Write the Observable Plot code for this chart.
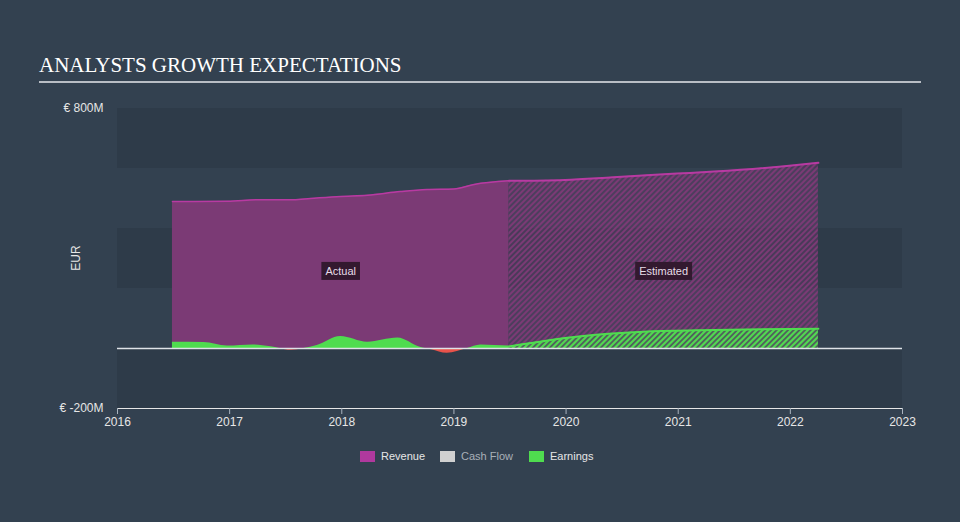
<!DOCTYPE html>
<html>
<head>
<meta charset="utf-8">
<script src="https://cdn.jsdelivr.net/npm/d3@7"></script>
<script src="https://cdn.jsdelivr.net/npm/@observablehq/plot@0.6"></script>
<style>
  html, body { margin: 0; padding: 0; background: #334150; width: 960px; height: 522px; overflow: hidden; }
  #title { position: absolute; left: 39px; top: 53px; font-family: "Liberation Serif", "DejaVu Serif", serif; font-size: 21px; color: #ffffff; }
  #rule { position: absolute; left: 39px; top: 81px; width: 882px; height: 2px; background: #b9bec5; }
  #chart { position: absolute; left: 0; top: 90px; }
  #legend { position: absolute; left: 0; top: 449px; width: 960px; font-family: "Liberation Sans", Arial, sans-serif; font-size: 11px; color: #e6e6e6; }
  .item { position: absolute; top: 0; display: flex; align-items: center; height: 14px; }
  .sw { width: 15px; height: 11px; margin-right: 6px; }
</style>
</head>
<body>
<div id="title">ANALYSTS GROWTH EXPECTATIONS</div>
<div id="rule"></div>
<div id="chart"></div>
<div id="legend"></div>
<script>
// ---- data ----
const xDomain = [2016, 2023];
const yDomain = [-200, 800];
const xTicks = [2016, 2017, 2018, 2019, 2020, 2021, 2022, 2023];
const yTicks = [-200, 800];
const yTickLabels = ["€ -200M", "€ 800M"];

const revenueActualYears  = [2016.49, 2016.98, 2017.27, 2017.57, 2017.72, 2017.99, 2018.23, 2018.52, 2018.76, 2019.0, 2019.18, 2019.49];
const revenueActualValues = [490, 491, 496, 496, 500, 507, 511, 523, 530, 532, 547, 559];

const revenueEstYears  = [2019.49, 2019.99, 2020.42, 2020.99, 2021.32, 2021.99, 2022.25];
const revenueEstValues = [559, 562, 571, 583, 590, 609, 619];

const earningsActualYears  = [2016.49, 2016.77, 2016.98, 2017.21, 2017.37, 2017.55, 2017.66, 2017.78, 2017.99, 2018.23, 2018.5, 2018.7, 2018.8, 2018.94, 2019.12, 2019.24, 2019.49];
const earningsActualValues = [21, 20, 8, 12, 6, -6, 0, 10, 40, 21, 35, 4, -4, -16, 0, 12, 8];

const earningsEstYears  = [2019.49, 2020.13, 2020.73, 2021.32, 2022.25];
const earningsEstValues = [7, 41, 57, 62, 66];

const bandLows  = [600, 200, -200];
const bandHighs = [800, 400, 0];

const labelTexts = ["Actual", "Estimated"];
const labelYears = [2017.99, 2020.87];
const labelValue = 257;

const legendNames  = ["Revenue", "Cash Flow", "Earnings"];
const legendColors = ["#b0399e", "#d0d0d0", "#4fdc4f"];
const legendText   = ["#e6e6e6", "#a9b0b8", "#e6e6e6"];
const legendLeft   = [360, 440, 529];

// ---- tables ----
const zip = (xs, ys) => xs.map((x, i) => ({x, y: ys[i]}));
const revA = zip(revenueActualYears, revenueActualValues);
const revE = zip(revenueEstYears, revenueEstValues);
const earA = zip(earningsActualYears, earningsActualValues);
const earE = zip(earningsEstYears, earningsEstValues);
const bands = bandLows.map((l, i) => ({y1: l, y2: bandHighs[i]}));
const labels = labelTexts.map((t, i) => ({t, x: labelYears[i], y: labelValue}));

const curve = "monotone-x";
const pal = {revFill: "#7b3a75", revLine: "#b83aa2", green: "#4fdc4f", red: "#e8524a"};

const plot = Plot.plot({
  width: 960,
  height: 350,
  marginLeft: 117,
  marginRight: 58,
  marginTop: 18,
  marginBottom: 32,
  style: {background: "transparent", fontFamily: "Liberation Sans, Arial, sans-serif", fontSize: "12px", color: "#e6e6e6"},
  x: {domain: xDomain, ticks: xTicks, tickFormat: d => String(d), tickSize: 6, tickPadding: 3, label: null, line: true},
  y: {domain: yDomain, ticks: yTicks, tickFormat: d => yTickLabels[yTicks.indexOf(d)], tickSize: 0, tickPadding: 14, label: null},
  marks: [
    Plot.rect(bands, {x1: () => xDomain[0], x2: () => xDomain[1], y1: "y1", y2: "y2", fill: "#2e3b49"}),
    // revenue actual
    Plot.areaY(revA, {x: "x", y1: 0, y2: "y", fill: pal.revFill, curve}),
    // revenue estimated (hatched)
    Plot.areaY(revE, {x: "x", y1: 0, y2: "y", fill: "url(#hatchRev)", curve}),
    // earnings actual (green above zero, red below zero via clip)
    Plot.areaY(earA, {x: "x", y1: 0, y2: "y", fill: pal.green, curve}),
    Plot.areaY(earA, {x: "x", y1: 0, y2: "y", fill: pal.red, curve}),
    // earnings estimated (hatched)
    Plot.areaY(earE, {x: "x", y1: 0, y2: "y", fill: "url(#hatchEarn)", curve}),
    Plot.lineY(earE, {x: "x", y: "y", stroke: pal.green, strokeWidth: 2, curve}),
    // revenue lines
    Plot.lineY(revA, {x: "x", y: "y", stroke: pal.revLine, strokeWidth: 1.5, curve}),
    Plot.lineY(revE, {x: "x", y: "y", stroke: pal.revLine, strokeWidth: 2, curve}),
    Plot.ruleY([0], {stroke: "#dfe3e8", strokeWidth: 1.5}),
    // labels
    Plot.text(labels, {x: "x", y: "y", text: "t", fill: "#e6dde8", fontSize: 11}),
  ]
});

const svg = d3.select(plot);
const defs = svg.insert("defs", ":first-child");
function hatch(id, base, baseOpacity, line) {
  const p = defs.append("pattern").attr("id", id).attr("patternUnits", "userSpaceOnUse")
    .attr("width", 4).attr("height", 4).attr("patternTransform", "rotate(45)");
  p.append("rect").attr("width", 4).attr("height", 4).attr("fill", base).attr("fill-opacity", baseOpacity);
  p.append("rect").attr("width", 2).attr("height", 4).attr("fill", line);
}
hatch("hatchRev", "#7b3a75", 0.35, "#7b3a75");
hatch("hatchEarn", "#4fdc4f", 0.25, "#4fdc4f");

const y0 = plot.scale("y").apply(0);
defs.append("clipPath").attr("id", "clipAbove").append("rect")
  .attr("x", -10).attr("y", -10).attr("width", 980).attr("height", y0 + 10);
defs.append("clipPath").attr("id", "clipBelow").append("rect")
  .attr("x", -10).attr("y", y0).attr("width", 980).attr("height", 400 - y0);
svg.selectAll("g").each(function() {
  const f = (this.getAttribute("fill") || "").toLowerCase();
  if (f === pal.green && this.querySelector("path")) this.setAttribute("clip-path", "url(#clipAbove)");
  if (f === pal.red && this.querySelector("path")) this.setAttribute("clip-path", "url(#clipBelow)");
});

svg.selectAll('g[aria-label="x-axis tick"] path, g[aria-label="x-axis line"] line').attr("stroke", "#aab4bf");

svg.append("text").attr("transform", `translate(80, ${plot.scale("y").apply(300)}) rotate(-90)`)
  .attr("text-anchor", "middle").attr("fill", "#e6e6e6").attr("font-size", "12px")
  .attr("font-family", "Liberation Sans, Arial, sans-serif").text("EUR");

document.getElementById("chart").appendChild(plot);

// boxes behind the Actual / Estimated labels
svg.selectAll("text").each(function() {
  if (labelTexts.includes(this.textContent) && this.parentNode.getAttribute("aria-label") !== "y-axis tick label") {
    const b = this.getBBox();
    const r = document.createElementNS("http://www.w3.org/2000/svg", "rect");
    r.setAttribute("x", b.x - 4); r.setAttribute("y", b.y - 3);
    r.setAttribute("width", b.width + 8); r.setAttribute("height", b.height + 6);
    r.setAttribute("fill", "#33192f");
    const tr = this.getAttribute("transform");
    if (tr) r.setAttribute("transform", tr);
    this.parentNode.insertBefore(r, this);
  }
});

const leg = document.getElementById("legend");
legendNames.forEach((n, i) => {
  const it = document.createElement("div");
  it.className = "item";
  it.style.left = legendLeft[i] + "px";
  it.innerHTML = `<div class="sw" style="background:${legendColors[i]}"></div><span style="color:${legendText[i]}">${n}</span>`;
  leg.appendChild(it);
});
</script>
</body>
</html>
